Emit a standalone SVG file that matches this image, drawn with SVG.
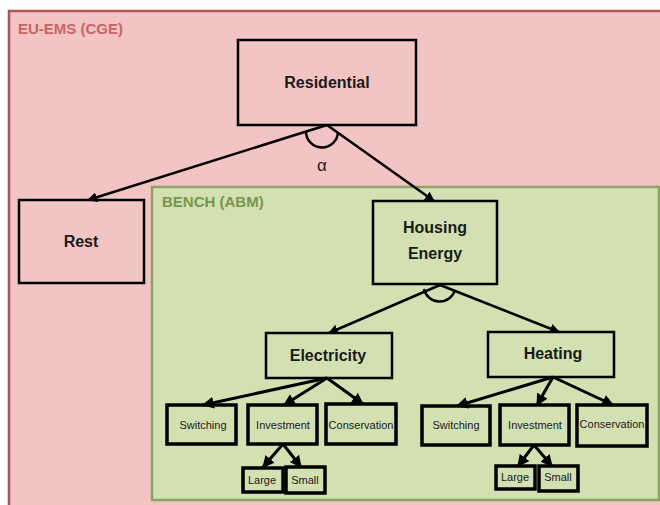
<svg xmlns="http://www.w3.org/2000/svg" width="660" height="505" viewBox="0 0 660 505">
<style>
.box{fill:none;stroke:#000;stroke-width:2.5}
.sbox{fill:none;stroke:#000;stroke-width:3.5}
.t{font-family:"Liberation Sans",Arial,sans-serif;font-weight:bold;font-size:16px;fill:#1a1a1a;text-anchor:middle}
.s{font-family:"Liberation Sans",Arial,sans-serif;font-size:11px;fill:#1a1a1a;text-anchor:middle}
.c{fill:none;stroke:#000;stroke-width:2.5;marker-end:url(#ah)}
.c2{fill:none;stroke:#000;stroke-width:3;marker-end:url(#ah)}
.arc{fill:none;stroke:#000;stroke-width:2.5}
</style>
<defs>
<marker id="ah" viewBox="0 0 10 10" refX="9" refY="5" markerWidth="4" markerHeight="4" orient="auto" markerUnits="strokeWidth">
<path d="M0,0 L10,5 L0,10 z" fill="#000"/>
</marker>
</defs>
<rect width="660" height="505" fill="#fff"/>
<g id="eu-ems">
<rect x="9" y="11" width="660" height="500" fill="#f2c4c4" stroke="#b05454" stroke-width="2.5"/>
<text x="18" y="34" font-family="Liberation Sans,Arial,sans-serif" font-weight="bold" font-size="15" fill="#c86464">EU-EMS (CGE)</text>
</g>
<g id="bench">
<rect x="152" y="187" width="507" height="313" fill="#d2e0b2" stroke="#8ca264" stroke-width="2.5"/>
<text x="162" y="207" font-family="Liberation Sans,Arial,sans-serif" font-weight="bold" font-size="15" fill="#76964c">BENCH (ABM)</text>
</g>
<g id="residential"><rect class="box" x="238" y="40" width="178" height="85"/><text class="t" x="327" y="88">Residential</text></g>
<g id="rest"><rect class="box" x="19" y="200" width="125" height="83"/><text class="t" x="81" y="247">Rest</text></g>
<g id="housing-energy"><rect class="box" x="373" y="201" width="124" height="83"/><text class="t" x="435" y="233">Housing</text><text class="t" x="435" y="259">Energy</text></g>
<g id="electricity"><rect class="box" x="266" y="333" width="126" height="45"/><text class="t" x="328" y="361">Electricity</text></g>
<g id="heating"><rect class="box" x="488" y="332" width="126" height="45"/><text class="t" x="553" y="359">Heating</text></g>
<g id="el-switching"><rect class="sbox" x="167" y="405" width="69" height="39"/><text class="s" x="203" y="429">Switching</text></g>
<g id="el-investment"><rect class="sbox" x="248" y="405" width="69" height="39"/><text class="s" x="283" y="429">Investment</text></g>
<g id="el-conservation"><rect class="sbox" x="326" y="404" width="70" height="40"/><text class="s" x="361" y="429">Conservation</text></g>
<g id="el-large"><rect class="sbox" x="243" y="468" width="40" height="24"/><text class="s" x="262" y="484">Large</text></g>
<g id="el-small"><rect class="sbox" x="286" y="467" width="39" height="26"/><text class="s" x="305" y="484">Small</text></g>
<g id="ht-switching"><rect class="sbox" x="422" y="406" width="68" height="39"/><text class="s" x="456" y="429">Switching</text></g>
<g id="ht-investment"><rect class="sbox" x="500" y="405" width="69" height="40"/><text class="s" x="535" y="429">Investment</text></g>
<g id="ht-conservation"><rect class="sbox" x="577" y="405" width="70" height="41"/><text class="s" x="612" y="428">Conservation</text></g>
<g id="ht-large"><rect class="sbox" x="496" y="466" width="39" height="23"/><text class="s" x="515" y="481">Large</text></g>
<g id="ht-small"><rect class="sbox" x="539" y="466" width="39" height="25"/><text class="s" x="558" y="481">Small</text></g>
<g id="connectors">
<line class="c" x1="327" y1="125" x2="88" y2="200"/>
<line class="c" x1="327" y1="125" x2="434" y2="201"/>
<path class="arc" d="M306,131 A16,16 0 0 0 338,132"/>
<text x="322" y="171" font-family="Liberation Sans,Arial,sans-serif" font-size="17" fill="#1a1a1a" text-anchor="middle">α</text>
<line class="c" x1="440" y1="285" x2="329" y2="333"/>
<line class="c" x1="440" y1="285" x2="559" y2="332"/>
<path class="arc" d="M424,289 A16,16 0 0 0 455,290"/>
<line class="c2" x1="327" y1="378" x2="203" y2="405"/>
<line class="c2" x1="327" y1="378" x2="284" y2="405"/>
<line class="c2" x1="327" y1="378" x2="363" y2="404"/>
<line class="c2" x1="283" y1="444" x2="263" y2="467"/>
<line class="c2" x1="283" y1="444" x2="301" y2="467"/>
<line class="c2" x1="553" y1="377" x2="457" y2="406"/>
<line class="c2" x1="553" y1="377" x2="537" y2="405"/>
<line class="c2" x1="553" y1="377" x2="613" y2="405"/>
<line class="c2" x1="534" y1="445" x2="518" y2="466"/>
<line class="c2" x1="534" y1="445" x2="552" y2="466"/>
</g>
</svg>
